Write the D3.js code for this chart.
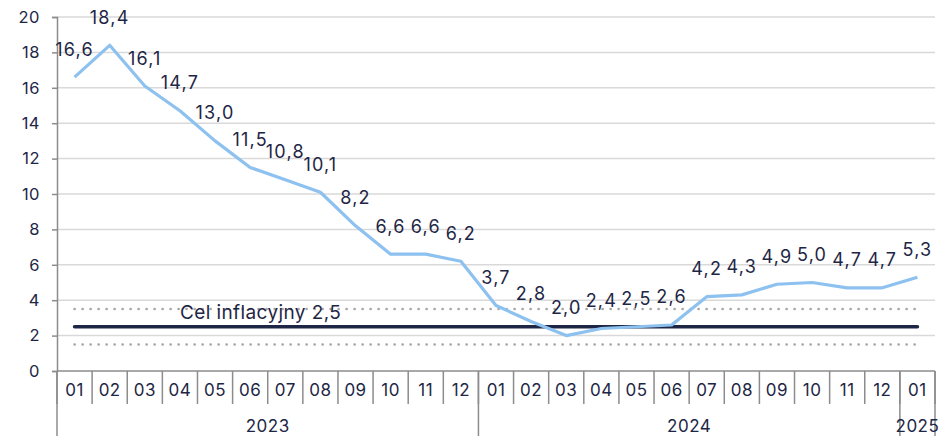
<!DOCTYPE html>
<html>
<head>
<meta charset="utf-8">
<script src="https://cdn.jsdelivr.net/npm/d3@7"></script>
<style>
body { margin: 0; background: #fff; }
text { font-family: Inter, "Noto Sans", sans-serif; fill: #1e2645; }
</style>
</head>
<body>
<svg id="chart" width="941" height="436"></svg>
<script>
var months = ["01","02","03","04","05","06","07","08","09","10","11","12",
	"01","02","03","04","05","06","07","08","09","10","11","12","01"];
var years = [
	{label: "2023", from: 0, to: 12},
	{label: "2024", from: 12, to: 24},
	{label: "2025", from: 24, to: 25}
];
var inflation = [16.6, 18.4, 16.1, 14.7, 13.0, 11.5, 10.8, 10.1, 8.2, 6.6, 6.6, 6.2,
	3.7, 2.8, 2.0, 2.4, 2.5, 2.6, 4.2, 4.3, 4.9, 5.0, 4.7, 4.7, 5.3];
var target = 2.5;
var bandLow = 1.5;
var bandHigh = 3.5;
var targetLabel = "Cel inflacyjny 2,5";
var yTicks = [0, 2, 4, 6, 8, 10, 12, 14, 16, 18, 20];

var svg = d3.select("#chart");
var plotLeft = 57, plotRight = 935, plotTop = 17, plotBottom = 371;
var AXIS_FONT = 16.5;
var LABEL_FONT = 18;

var x = d3.scaleBand()
	.domain(d3.range(months.length))
	.range([plotLeft, plotRight]);
var y = d3.scaleLinear()
	.domain([0, 20])
	.range([plotBottom, plotTop]);
var cx = function(i) { return x(i) + x.bandwidth() / 2; };
var fmt = function(v) { return v.toFixed(1).replace(".", ","); };

// gridlines
svg.append("g")
	.selectAll("line")
	.data(yTicks.filter(function(d) { return d > 0; }))
	.enter().append("line")
	.attr("x1", plotLeft).attr("x2", plotRight)
	.attr("y1", function(d) { return y(d); })
	.attr("y2", function(d) { return y(d); })
	.attr("stroke", "#d9d9d9")
	.attr("stroke-width", 1.5);

// y axis
var yAxis = svg.append("g")
	.attr("transform", "translate(" + plotLeft + ",0)")
	.call(d3.axisLeft(y).tickValues(yTicks).tickSize(5).tickPadding(12).tickFormat(d3.format("d")));
yAxis.select(".domain").attr("stroke", "#8c8c8c").attr("stroke-width", 1.5);
yAxis.selectAll(".tick line").attr("stroke", "#8c8c8c").attr("stroke-width", 1.5);
yAxis.selectAll(".tick text").attr("font-size", AXIS_FONT).attr("fill", "#1e2645")
	.attr("font-family", "Inter, 'Noto Sans', sans-serif")
	.attr("letter-spacing", 0.5);

// band lines (dotted)
var first = cx(0), last = cx(months.length - 1);
[bandLow, bandHigh].forEach(function(v) {
	svg.append("line")
		.attr("x1", first).attr("x2", last)
		.attr("y1", y(v)).attr("y2", y(v))
		.attr("stroke", "#a6a6a6")
		.attr("stroke-width", 2.6)
		.attr("stroke-linecap", "round")
		.attr("stroke-dasharray", "0.1 7.9");
});

// target line
svg.append("line")
	.attr("x1", first).attr("x2", last)
	.attr("y1", y(target)).attr("y2", y(target))
	.attr("stroke", "#1e2645")
	.attr("stroke-width", 3.5)
	.attr("stroke-linecap", "round");
svg.append("text")
	.attr("x", cx(3))
	.attr("y", y(target) - 8)
	.attr("font-size", 19)
	.attr("letter-spacing", 0.4)
	.text(targetLabel);

// inflation line
var line = d3.line()
	.x(function(d, i) { return cx(i); })
	.y(function(d) { return y(d); });
svg.append("path")
	.datum(inflation)
	.attr("d", line)
	.attr("fill", "none")
	.attr("stroke", "#8dc1ef")
	.attr("stroke-width", 3.2)
	.attr("stroke-linejoin", "round");

svg.append("g")
	.selectAll("text")
	.data(inflation)
	.enter().append("text")
	.attr("x", function(d, i) { return cx(i); })
	.attr("y", function(d) { return y(d) - 21.5; })
	.attr("text-anchor", "middle")
	.attr("font-size", LABEL_FONT)
	.attr("letter-spacing", 1.2)
	.text(fmt);

// category axis
var axisColor = "#8c8c8c";
svg.append("line")
	.attr("x1", plotLeft).attr("x2", plotRight)
	.attr("y1", plotBottom).attr("y2", plotBottom)
	.attr("stroke", axisColor).attr("stroke-width", 1.5);

svg.append("g")
	.selectAll("line")
	.data(d3.range(months.length + 1))
	.enter().append("line")
	.attr("x1", function(i) { return plotLeft + i * x.step(); })
	.attr("x2", function(i) { return plotLeft + i * x.step(); })
	.attr("y1", plotBottom)
	.attr("y2", plotBottom + 33)
	.attr("stroke", axisColor).attr("stroke-width", 1.5);

svg.append("g")
	.selectAll("text")
	.data(months)
	.enter().append("text")
	.attr("x", function(d, i) { return cx(i); })
	.attr("y", plotBottom + 25)
	.attr("text-anchor", "middle")
	.attr("font-size", 17)
	.attr("letter-spacing", 0.5)
	.text(function(d) { return d; });

var yearEdges = [0, 12, 24, 25];
svg.append("g")
	.selectAll("line")
	.data(yearEdges)
	.enter().append("line")
	.attr("x1", function(i) { return plotLeft + i * x.step(); })
	.attr("x2", function(i) { return plotLeft + i * x.step(); })
	.attr("y1", plotBottom)
	.attr("y2", 436)
	.attr("stroke", axisColor).attr("stroke-width", 1.5);

svg.append("g")
	.selectAll("text")
	.data(years)
	.enter().append("text")
	.attr("x", function(d) { return plotLeft + (d.from + d.to) / 2 * x.step(); })
	.attr("y", 432)
	.attr("text-anchor", "middle")
	.attr("font-size", 17)
	.attr("letter-spacing", 0.5)
	.text(function(d) { return d.label; });
</script>
</body>
</html>
